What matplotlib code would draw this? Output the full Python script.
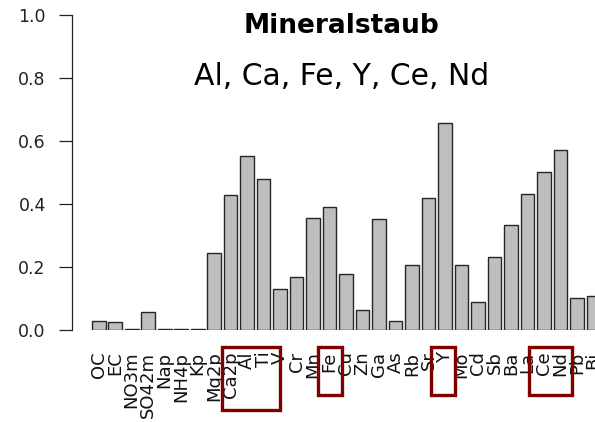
import matplotlib
matplotlib.use("Agg")
import matplotlib.pyplot as plt
from matplotlib.patches import Rectangle

# ---- data ----
categories = ["OC", "EC", "NO3m", "SO42m", "Nap", "NH4p", "Kp", "Mg2p", "Ca2p", "Al",
              "Ti", "V", "Cr", "Mn", "Fe", "Cu", "Zn", "Ga", "As", "Rb", "Sr", "Y",
              "Mo", "Cd", "Sb", "Ba", "La", "Ce", "Nd", "Pb", "Bi"]
values = [0.030, 0.025, 0.003, 0.058, 0.004, 0.004, 0.004, 0.245, 0.428, 0.553,
          0.480, 0.130, 0.169, 0.356, 0.390, 0.179, 0.063, 0.352, 0.030, 0.207,
          0.419, 0.658, 0.207, 0.088, 0.233, 0.332, 0.433, 0.501, 0.571, 0.102, 0.107]
yticks = [0.0, 0.2, 0.4, 0.6, 0.8, 1.0]
title = "Mineralstaub"
subtitle = "Al, Ca, Fe, Y, Ce, Nd"
# highlighted label groups (first, last category)
highlight_groups = [("Ca2p", "Ti"), ("Fe", "Fe"), ("Y", "Y"), ("Ce", "Nd")]

W, H = 595, 422
fig = plt.figure(figsize=(W / 100, H / 100), dpi=100)

# axes: left spine at x=71.7px, baseline at y=330px, top (1.0) at y=15px
ax_left = 71.7 / W
ax_bottom = (H - 330) / H
ax_h = (330 - 15) / H
ax_w = (609.9 - 71.7) / W
ax = fig.add_axes([ax_left, ax_bottom, ax_w, ax_h])

x = list(range(len(categories)))
ax.bar(x, values, width=1 / 1.2, color="#BEBEBE", edgecolor="#262626",
       linewidth=1.0, zorder=2)

ax.set_xlim(-1.637, 31)
ax.set_ylim(0, 1)
for s in ("top", "right", "bottom"):
    ax.spines[s].set_visible(False)
ax.spines["left"].set_linewidth(0.9)
ax.spines["left"].set_color("#222222")

ax.set_yticks(yticks)
ax.set_yticklabels([f"{v:.1f}" for v in yticks])
ax.tick_params(axis="y", length=9.6, width=0.9, pad=9.0, labelsize=12.5,
               colors="#222222")

ax.set_xticks(x)
ax.set_xticklabels(categories, rotation=90, fontsize=13)
ax.tick_params(axis="x", length=0, pad=15.5, colors="#111111")

# titles
fig.text(341 / W, 1 - 33.3 / H, title, ha="center", va="baseline",
         fontsize=19, fontweight="bold", color="black")
fig.text(341.5 / W, 1 - 85 / H, subtitle, ha="center", va="baseline",
         fontsize=21.5, color="black")

# red highlight boxes around labels (hand-drawn style paddings)
box_pads = [(-0.54, 0.99, -0.254), (-0.72, 0.77, -0.207),
            (-0.87, 0.60, -0.207), (-0.88, 0.68, -0.207)]
idx = {c: i for i, c in enumerate(categories)}
box_y_top = -0.055
for (a, b), (pl, pr, y_bot) in zip(highlight_groups, box_pads):
    x0 = idx[a] + pl
    x1 = idx[b] + pr
    rect = Rectangle((x0, y_bot), x1 - x0, box_y_top - y_bot, fill=False,
                     edgecolor="#800000", linewidth=2.4, clip_on=False,
                     transform=ax.transData, zorder=5)
    ax.add_patch(rect)

fig.savefig("out.png", dpi=100)
